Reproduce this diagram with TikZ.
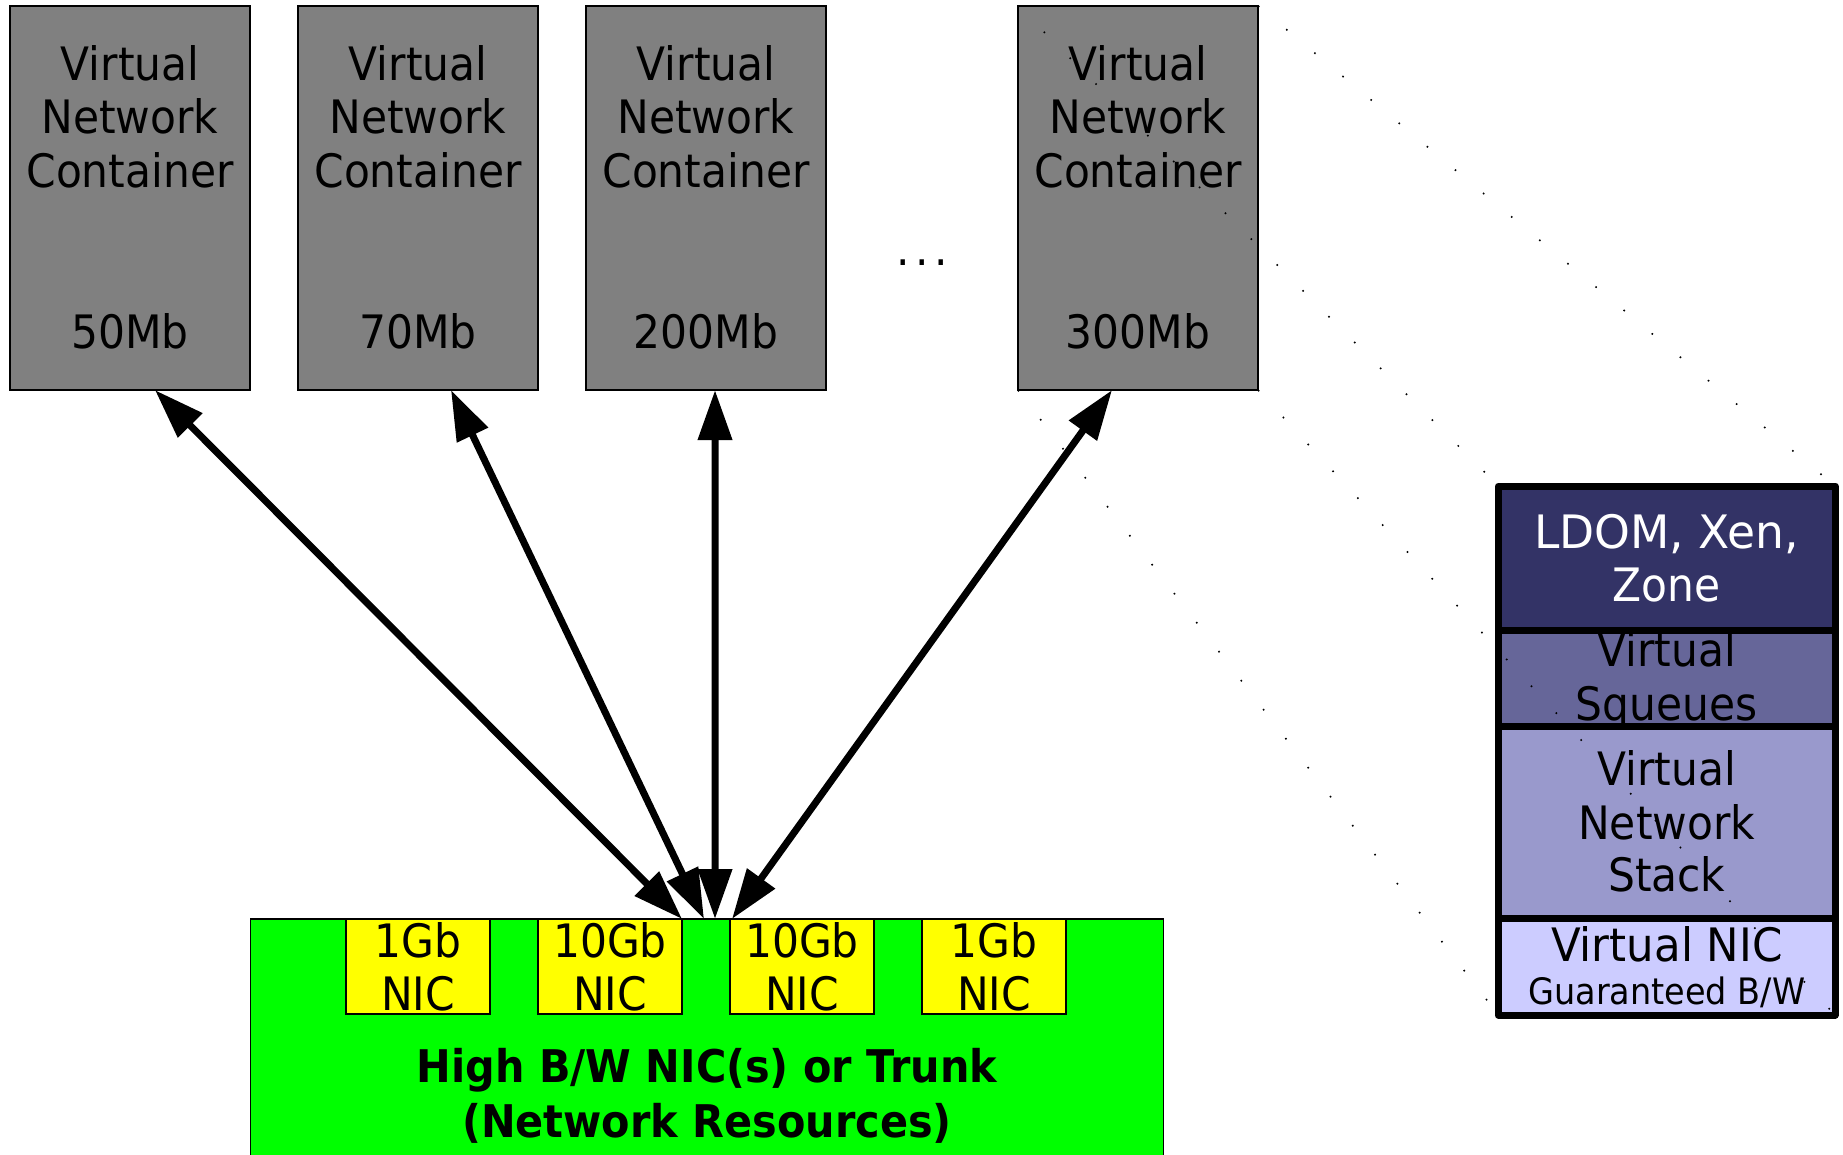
\documentclass[tikz,border=0pt]{standalone}
\usepackage{fontspec}
\setmainfont{DejaVu Sans}[FakeStretch=0.92]
\usetikzlibrary{arrows.meta}

\definecolor{boxgray}{HTML}{808080}
\definecolor{netgreen}{HTML}{00FF00}
\definecolor{nicyellow}{HTML}{FFFF00}
\definecolor{layerA}{HTML}{333366}
\definecolor{layerB}{HTML}{666699}
\definecolor{layerC}{HTML}{9999CC}
\definecolor{layerD}{HTML}{CCCCFF}

\newcommand{\bigtxt}{\fontsize{13.1pt}{15.2pt}\selectfont}
\newcommand{\boldtxt}{\fontsize{12.8pt}{15pt}\selectfont\bfseries}
\newcommand{\smalltxt}{\fontsize{10.35pt}{12pt}\selectfont}

\tikzset{
  plainbox/.style={rectangle, draw=black, line width=0.4pt, inner sep=0pt, outer sep=0pt},
  container/.style={plainbox, fill=boxgray, minimum width=2.40cm, minimum height=3.84cm},
  nicbox/.style={plainbox, fill=nicyellow, minimum width=1.44cm, minimum height=0.95cm},
  netbox/.style={plainbox, fill=netgreen, minimum width=9.12cm, minimum height=2.51cm},
  layer/.style={rectangle, draw=black, line width=2pt, line join=round, inner sep=0pt,
    outer sep=0pt, minimum width=3.365cm},
  lbl/.style={anchor=base, inner sep=0pt, outer sep=0pt, font=\bigtxt},
  boldlbl/.style={anchor=base, inner sep=0pt, outer sep=0pt, font=\boldtxt},
  smalllbl/.style={anchor=base, inner sep=0pt, outer sep=0pt, font=\smalltxt},
  dblarrow/.style={line width=2pt,
    {Triangle[length=14.2pt,width=9.4pt]}-{Triangle[length=14.2pt,width=9.4pt]}},
  dotline/.style={draw=black, line width=0.45pt, dash pattern=on 0.45pt off 9.95pt}
}

\begin{document}
\begin{tikzpicture}[x=0.01cm, y=-0.01cm]
\useasboundingbox (0,0) rectangle (1843,1154);
\clip (0,0) rectangle (1843,1154);

% virtual network containers
\foreach \i/\cx/\bw in {1/130/50Mb, 2/418/70Mb, 3/706/200Mb, 4/1138/300Mb} {
  \node[container] (c\i) at (\cx,198) {};
  \node[lbl] (c\i-a) at (\cx,80) {Virtual};
  \node[lbl] (c\i-b) at (\cx,133) {Network};
  \node[lbl] (c\i-c) at (\cx,187) {Container};
  \node[lbl] (c\i-d) at (\cx,348) {\bw};
}
\node[lbl] (more) at (922,265) {.\kern1.6pt.\kern1.6pt.};

% network resources with the physical NICs
\node[netbox] (net) at (707,1044.5) {};
\foreach \i/\cx/\sp in {1/418/1Gb, 2/610/10Gb, 3/802/10Gb, 4/994/1Gb} {
  \node[nicbox] (nic\i) at (\cx,966.5) {};
  \node[lbl] (nic\i-a) at (\cx,957) {\sp};
  \node[lbl] (nic\i-b) at (\cx,1010) {NIC};
}
\node[boldlbl] (net-a) at (707,1082) {High B/W NIC(s) or Trunk};
\node[boldlbl] (net-b) at (707,1137) {(Network Resources)};

% bandwidth links
\draw[dblarrow] ([xshift=0.25cm]c1.south) -- ([xshift=-0.25cm]net.north);
\draw[dblarrow] ([xshift=0.33cm]c2.south) -- ([xshift=-0.03cm]net.north);
\draw[dblarrow] ([xshift=0.09cm]c3.south) -- ([xshift=0.08cm]net.north);
\draw[dblarrow] ([xshift=-0.26cm]c4.south) -- ([xshift=0.25cm]net.north);

% layered view of one container
\node[layer, fill=layerA, minimum height=1.443cm] (l1) at (1666.75,558.2) {};
\node[layer, fill=layerB, minimum height=0.964cm] (l2) at (1666.75,678.5) {};
\node[layer, fill=layerC, minimum height=1.92cm]  (l3) at (1666.75,822.7) {};
\node[layer, fill=layerD, minimum height=0.963cm] (l4) at (1666.75,966.9) {};

\node[lbl, text=white] (l1-a) at (1666.75,548.3) {\scalebox{1.075}[1]{LDOM, Xen,}};
\node[lbl, text=white] (l1-b) at (1666.75,601.7) {Zone};
\node[lbl] (l2-a) at (1666.75,666.7) {Virtual};
\node[lbl] (l2-b) at (1666.75,720.7) {Squeues};
\node[lbl] (l3-a) at (1666.75,785) {Virtual};
\node[lbl] (l3-b) at (1666.75,839.3) {Network};
\node[lbl] (l3-c) at (1666.75,891.7) {Stack};
\node[lbl] (l4-a) at (1666.75,961.7) {\scalebox{1.025}[1]{Virtual NIC}};
\node[smalllbl] (l4-b) at (1666.75,1004.6) {Guaranteed B/W};

% projection lines from the last container to its layered view
\draw[dotline] (c4.north west) -- (l1.north west);
\draw[dotline] (c4.north east) -- (l1.north east);
\draw[dotline] (c4.south west) -- (l4.south west);
\draw[dotline] (c4.south east) -- (l4.south east);
\end{tikzpicture}
\end{document}
